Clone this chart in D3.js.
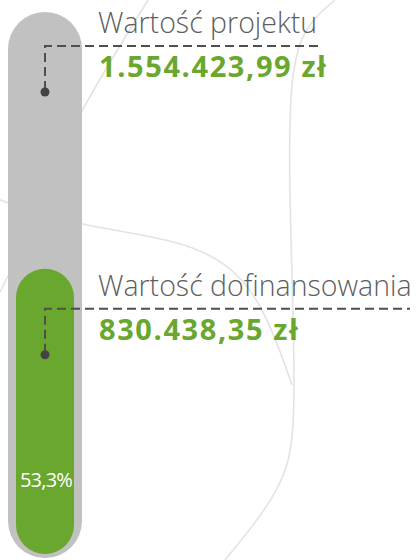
<!DOCTYPE html>
<html>
<head>
<meta charset="utf-8">
<script src="https://cdn.jsdelivr.net/npm/d3@7"></script>
<style>
  html, body { margin: 0; padding: 0; background: #fff; }
  svg { display: block; }
</style>
</head>
<body>
<div id="chart"></div>
<script>
// data
const labels = ["Wartość projektu", "Wartość dofinansowania"];
const values = [1554423.99, 830438.35];
const shareLabel = "53,3%";

const width = 418;
const height = 560;

const gray = "#c1c1c1";
const green = "#6aa72f";
const lineColor = "#4f4f4f";

const pl = d3.formatLocale({decimal: ",", thousands: ".", grouping: [3], currency: ["", " zł"]});
const fmt = pl.format("$,.2f");

const svg = d3.select("#chart")
    .append("svg")
    .attr("width", width)
    .attr("height", height);

// background decoration
const deco = [
    [[335, 0], [302, 28], [290, 80], [289, 180], [293, 300], [295, 420], [289, 468], [266, 510], [225, 560]],
    [[-5, 198], [40, 215], [110, 230], [180, 241], [228, 263], [258, 298], [278, 345], [292, 385]],
    [[60, 150], [100, 78], [148, 0]],
    [[0, 292], [12, 268]]
];
const decoLine = d3.line().curve(d3.curveBasis);
svg.selectAll("path.deco")
    .data(deco)
    .enter()
    .append("path")
    .attr("class", "deco")
    .attr("fill", "none")
    .attr("stroke", "#e3e3e3")
    .attr("stroke-width", 1.6)
    .attr("d", decoLine);

const y = d3.scaleLinear()
    .domain([0, values[0]])
    .range([554, 20]);

const barX = 8, barW = 74, inset = 8;
const barBottom = 558;

// outer gray capsule (total project value)
svg.append("rect")
    .attr("x", barX)
    .attr("y", y(values[0]) - inset)
    .attr("width", barW)
    .attr("height", barBottom - (y(values[0]) - inset))
    .attr("rx", barW / 2)
    .attr("fill", gray);

// green bar (co-financing)
svg.append("rect")
    .attr("x", barX + inset)
    .attr("y", y(values[1]))
    .attr("width", barW - 2 * inset)
    .attr("height", y(0) - y(values[1]))
    .attr("rx", (barW - 2 * inset) / 2)
    .attr("fill", green);

svg.append("text")
    .attr("x", barX + barW / 2 + 1)
    .attr("y", 487)
    .attr("text-anchor", "middle")
    .attr("fill", "#fff")
    .attr("font-family", "Open Sans, sans-serif")
    .attr("font-size", 20)
    .attr("letter-spacing", -0.8)
    .text(shareLabel);

// leaders + labels
const leaderOffset = [26, 40];
const lineEnd = [323, 410];
const lx = 45;
const textX = 98;

values.forEach(function (v, i) {
    const ly = y(v) + leaderOffset[i];
    const g = svg.append("g");
    g.append("path")
        .attr("d", `M${lx},${ly + 44}V${ly}H${lineEnd[i]}`)
        .attr("fill", "none")
        .attr("stroke", lineColor)
        .attr("stroke-width", 2)
        .attr("stroke-dasharray", "9,5");
    g.append("circle")
        .attr("cx", lx)
        .attr("cy", ly + 46)
        .attr("r", 4.5)
        .attr("fill", "#444");
    g.append("text")
        .attr("x", textX)
        .attr("y", ly - 13)
        .attr("fill", "#5e5e5e")
        .attr("font-family", "Open Sans, sans-serif")
        .attr("font-size", 28.5)
        .attr("font-weight", 300)
        .text(labels[i]);
    g.append("text")
        .attr("x", textX + 1)
        .attr("y", ly + 31)
        .attr("fill", green)
        .attr("font-family", "Open Sans, sans-serif")
        .attr("font-size", 29)
        .attr("font-weight", 700)
        .attr("letter-spacing", 1.6)
        .text(fmt(v));
});
</script>
</body>
</html>
